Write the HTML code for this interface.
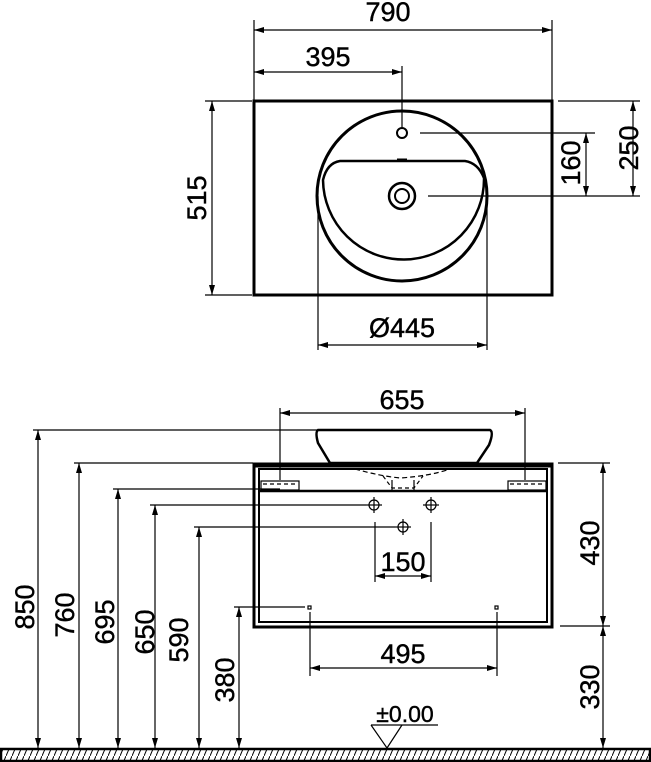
<!DOCTYPE html>
<html><head><meta charset="utf-8"><style>html,body{margin:0;padding:0;background:#fff}svg{display:block}text{font-family:"Liberation Sans",sans-serif;font-size:27px;fill:#000;stroke:#000;stroke-width:0.4}</style></head>
<body>
<svg width="651" height="762" viewBox="0 0 651 762" xmlns="http://www.w3.org/2000/svg">
<defs>
<marker id="a" viewBox="0 0 10 6" refX="10" refY="3" markerWidth="10" markerHeight="6" orient="auto-start-reverse" markerUnits="userSpaceOnUse"><path d="M0,0 L10,3 L0,6z" fill="#000"/></marker>
<pattern id="h" width="6" height="14" patternUnits="userSpaceOnUse"><path d="M0,14 L6,0" stroke="#000" stroke-width="1"/></pattern>
</defs>
<g stroke="#000" fill="none" stroke-width="1.2">
<rect x="254" y="101" width="298" height="194" stroke-width="3"/>
<circle cx="402" cy="196" r="85" stroke-width="3"/>
<path d="M340,161 L465,161 Q478,163 484,178 A77,77 0 1 1 323,180 Q327,163 340,161Z" stroke-width="2.5"/>
<line x1="397" y1="160" x2="407" y2="160" stroke-width="3"/>
<circle cx="402" cy="133" r="5" stroke-width="2"/>
<circle cx="402" cy="196" r="13" stroke-width="2.5"/>
<circle cx="402" cy="196" r="7" stroke-width="2"/>
<line x1="254" y1="20" x2="254" y2="100"/><line x1="552" y1="20" x2="552" y2="100"/>
<line x1="254" y1="30" x2="552" y2="30" marker-start="url(#a)" marker-end="url(#a)"/>
<line x1="402" y1="66" x2="402" y2="128"/>
<line x1="254" y1="72" x2="402" y2="72" marker-start="url(#a)" marker-end="url(#a)"/>
<line x1="205" y1="101" x2="252" y2="101"/><line x1="205" y1="295" x2="252" y2="295"/>
<line x1="212" y1="101" x2="212" y2="295" marker-start="url(#a)" marker-end="url(#a)"/>
<line x1="558" y1="101" x2="640" y2="101"/><line x1="420" y1="133" x2="595" y2="133"/><line x1="428" y1="196" x2="640" y2="196"/>
<line x1="633" y1="101" x2="633" y2="196" marker-start="url(#a)" marker-end="url(#a)"/>
<line x1="586" y1="133" x2="586" y2="196" marker-start="url(#a)" marker-end="url(#a)"/>
<line x1="318" y1="196" x2="318" y2="350"/><line x1="487" y1="196" x2="487" y2="350"/>
<line x1="318" y1="345" x2="487" y2="345" marker-start="url(#a)" marker-end="url(#a)"/>
<path d="M318,430 L490,430 Q494,432 489,445 L477,463 L330,463 L318,443 Q315,432 318,430Z" stroke-width="2.5"/>
<rect x="254" y="464" width="298" height="163" stroke-width="3"/>
<rect x="259" y="469" width="288" height="153" stroke-width="2"/>
<line x1="254" y1="465" x2="552" y2="465" stroke-width="5"/>
<line x1="259" y1="491" x2="547" y2="491" stroke-width="2.5"/>
<path d="M355,469 Q380,476 400,478 Q430,476 450,469" stroke-dasharray="5,3"/>
<path d="M383,476 L392,488 L414,488 L423,476" stroke-dasharray="4,3"/>
<line x1="392" y1="480" x2="392" y2="490"/><line x1="414" y1="480" x2="414" y2="490"/>
<rect x="261" y="481" width="38" height="9"/><rect x="508" y="481" width="38" height="9"/>
<line x1="263" y1="484" x2="297" y2="484" stroke-dasharray="4,3"/><line x1="510" y1="484" x2="544" y2="484" stroke-dasharray="4,3"/>
<g stroke-width="1.2">
<circle cx="374" cy="505" r="5"/><line x1="366" y1="505" x2="382" y2="505"/><line x1="374" y1="497" x2="374" y2="513"/>
<circle cx="431" cy="505" r="5"/><line x1="423" y1="505" x2="439" y2="505"/><line x1="431" y1="497" x2="431" y2="513"/>
<circle cx="403" cy="527" r="5"/><line x1="395" y1="527" x2="411" y2="527"/><line x1="403" y1="519" x2="403" y2="535"/>
</g>
<rect x="308" y="606" width="3" height="3"/><rect x="495" y="606" width="3" height="3"/>
<line x1="280" y1="408" x2="280" y2="480"/><line x1="525" y1="408" x2="525" y2="480"/>
<line x1="280" y1="413" x2="525" y2="413" marker-start="url(#a)" marker-end="url(#a)"/>
<line x1="375" y1="522" x2="375" y2="582"/><line x1="431" y1="522" x2="431" y2="582"/>
<line x1="375" y1="576" x2="431" y2="576" marker-start="url(#a)" marker-end="url(#a)"/>
<line x1="310" y1="612" x2="310" y2="676"/><line x1="497" y1="612" x2="497" y2="676"/>
<line x1="310" y1="668" x2="497" y2="668" marker-start="url(#a)" marker-end="url(#a)"/>
<line x1="33" y1="430" x2="318" y2="430"/><line x1="38" y1="430" x2="38" y2="748" marker-start="url(#a)" marker-end="url(#a)"/>
<line x1="74" y1="463" x2="253" y2="463"/><line x1="79" y1="463" x2="79" y2="748" marker-start="url(#a)" marker-end="url(#a)"/>
<line x1="113" y1="489" x2="280" y2="489"/><line x1="118" y1="489" x2="118" y2="748" marker-start="url(#a)" marker-end="url(#a)"/>
<line x1="150" y1="505" x2="366" y2="505"/><line x1="155" y1="505" x2="155" y2="748" marker-start="url(#a)" marker-end="url(#a)"/>
<line x1="194" y1="527" x2="395" y2="527"/><line x1="199" y1="527" x2="199" y2="748" marker-start="url(#a)" marker-end="url(#a)"/>
<line x1="234" y1="607" x2="305" y2="607"/><line x1="239" y1="607" x2="239" y2="748" marker-start="url(#a)" marker-end="url(#a)"/>
<line x1="558" y1="463" x2="610" y2="463"/><line x1="560" y1="626" x2="610" y2="626"/>
<line x1="603" y1="463" x2="603" y2="626" marker-start="url(#a)" marker-end="url(#a)"/>
<line x1="603" y1="626" x2="603" y2="748" marker-start="url(#a)" marker-end="url(#a)"/>
<rect x="1" y="749" width="649" height="12" fill="url(#h)" stroke-width="2.5"/>
<line x1="371" y1="725" x2="438" y2="725"/>
<path d="M371,725 L387,748 L402,725" />
</g>
<text x="388" y="21" text-anchor="middle">790</text>
<text x="328" y="66" text-anchor="middle">395</text>
<text x="402" y="337" text-anchor="middle">Ø445</text>
<text transform="translate(206,198) rotate(-90)" text-anchor="middle">515</text>
<text transform="translate(638,148) rotate(-90)" text-anchor="middle">250</text>
<text transform="translate(580,163) rotate(-90)" text-anchor="middle">160</text>
<text x="402" y="409" text-anchor="middle">655</text>
<text x="403" y="571" text-anchor="middle">150</text>
<text x="403" y="663" text-anchor="middle">495</text>
<text x="405" y="722" text-anchor="middle" style="font-size:23px">±0.00</text>
<text transform="translate(34,607) rotate(-90)" text-anchor="middle">850</text>
<text transform="translate(74,615) rotate(-90)" text-anchor="middle">760</text>
<text transform="translate(114,622) rotate(-90)" text-anchor="middle">695</text>
<text transform="translate(154,632) rotate(-90)" text-anchor="middle">650</text>
<text transform="translate(188,640) rotate(-90)" text-anchor="middle">590</text>
<text transform="translate(234,680) rotate(-90)" text-anchor="middle">380</text>
<text transform="translate(599,543) rotate(-90)" text-anchor="middle">430</text>
<text transform="translate(599,687) rotate(-90)" text-anchor="middle">330</text>
</svg>
</body></html>
